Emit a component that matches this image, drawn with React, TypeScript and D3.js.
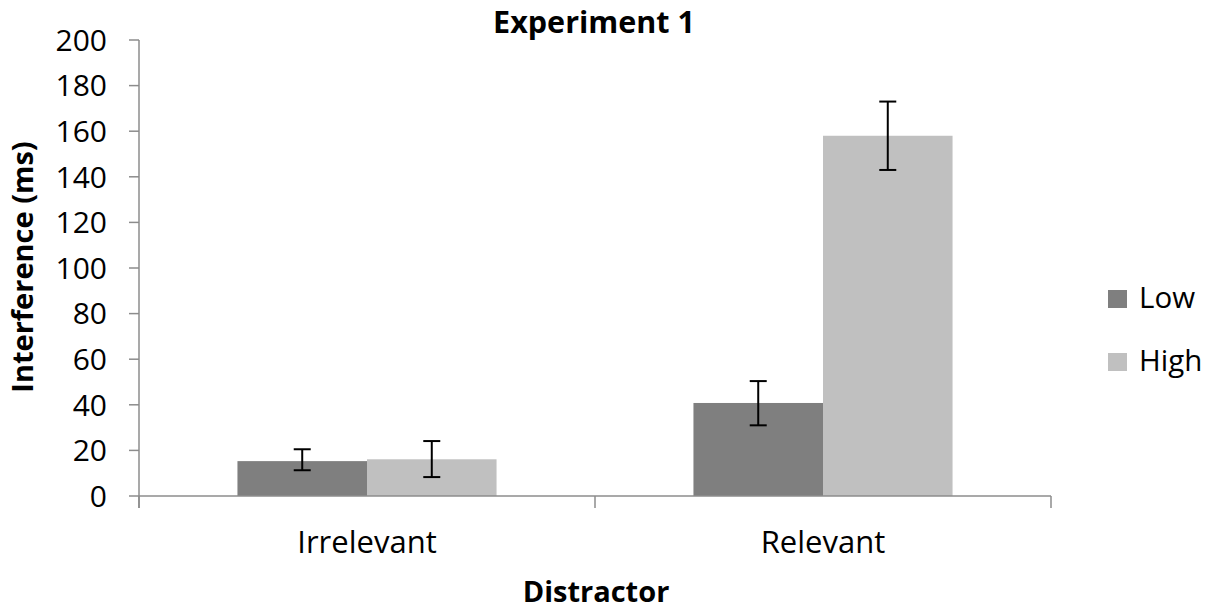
import * as d3 from 'd3'

const categories = ['Irrelevant', 'Relevant']
const seriesNames = ['Low', 'High']
const lowValues = [15.3, 40.8]
const highValues = [16.1, 158]
const lowUpper = [20.5, 50.4]
const lowLower = [11.3, 31]
const highUpper = [24.1, 173]
const highLower = [8.3, 143]
const yTicks = [0, 20, 40, 60, 80, 100, 120, 140, 160, 180, 200]

const colors: Record<string, string> = { Low: '#7f7f7f', High: '#c0c0c0' }
const axisColor = '#8c8c8c'
const font = '"Open Sans", sans-serif'

const W = 1205, H = 611
const left = 139, right = 1051, top = 40, bottom = 496

const App = () => {
  const x = d3.scaleBand<string>().domain(categories).range([left, right]).padding(0)
  const xs = d3.scaleBand<string>().domain(seriesNames).range([0, x.bandwidth()]).paddingInner(0).paddingOuter(0.76)
  const y = d3.scaleLinear().domain([0, 200]).range([bottom, top])

  const rows = categories.map((c, i) => ({
    cat: c,
    bars: [
      { s: 'Low', v: lowValues[i], hi: lowUpper[i], lo: lowLower[i] },
      { s: 'High', v: highValues[i], hi: highUpper[i], lo: highLower[i] },
    ],
  }))

  const xTickPos = [left, ...categories.slice(1).map(c => x(c) as number), right]

  return (
    <svg width={W} height={H} style={{ position: 'absolute', left: 0, top: 0, background: '#fff' }} fontFamily={font}>
      <text x={594} y={33} textAnchor="middle" fontSize={30.5} fontWeight="bold">Experiment 1</text>

      {rows.map(r => (
        <g key={r.cat} transform={`translate(${x(r.cat)},0)`}>
          {r.bars.map(b => {
            const bx = xs(b.s) as number
            const cx = bx + xs.bandwidth() / 2
            return (
              <g key={b.s}>
                <rect x={bx} y={y(b.v)} width={xs.bandwidth()} height={y(0) - y(b.v)} fill={colors[b.s]} />
                <line x1={cx} x2={cx} y1={y(b.hi)} y2={y(b.lo)} stroke="#000" strokeWidth={2} />
                <line x1={cx - 8.5} x2={cx + 8.5} y1={y(b.hi)} y2={y(b.hi)} stroke="#000" strokeWidth={2} />
                <line x1={cx - 8.5} x2={cx + 8.5} y1={y(b.lo)} y2={y(b.lo)} stroke="#000" strokeWidth={2} />
              </g>
            )
          })}
        </g>
      ))}

      <line x1={left} x2={left} y1={top} y2={bottom + 12} stroke={axisColor} strokeWidth={1.5} />
      {yTicks.map(t => (
        <g key={t}>
          <line x1={left - 10} x2={left} y1={y(t)} y2={y(t)} stroke={axisColor} strokeWidth={1.5} />
          <text x={107} y={y(t)} dy="0.36em" textAnchor="end" fontSize={30} fill="#000">{t}</text>
        </g>
      ))}

      <line x1={left} x2={right} y1={bottom} y2={bottom} stroke={axisColor} strokeWidth={1.5} />
      {xTickPos.map((p, i) => (
        <line key={i} x1={p} x2={p} y1={bottom} y2={bottom + 12} stroke={axisColor} strokeWidth={1.5} />
      ))}
      {categories.map(c => (
        <text key={c} x={(x(c) as number) + x.bandwidth() / 2} y={553} textAnchor="middle" fontSize={31} fill="#000">{c}</text>
      ))}

      <text x={596} y={602} textAnchor="middle" fontSize={29} fontWeight="bold">Distractor</text>
      <text transform={`translate(33,267) rotate(-90)`} textAnchor="middle" fontSize={29} fontWeight="bold">Interference (ms)</text>

      {seriesNames.map((s, i) => (
        <g key={s} transform={`translate(1108,${290 + i * 63})`}>
          <rect x={0} y={0} width={19} height={18} fill={colors[s]} />
          <text x={31} y={18} fontSize={29.5} fill="#000">{s}</text>
        </g>
      ))}
    </svg>
  )
}

export default App
